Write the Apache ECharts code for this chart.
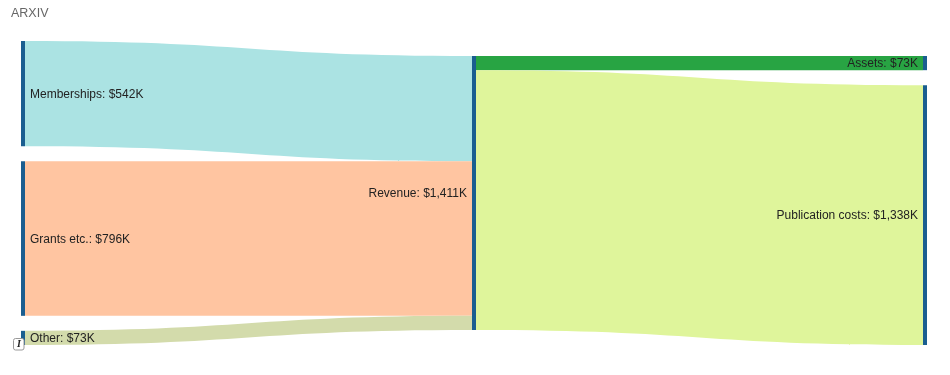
<!DOCTYPE html>
<html><head><meta charset="utf-8">
<style>html,body{margin:0;padding:0;background:#fff}#c{width:950px;height:375px}</style>
<script src="https://cdn.jsdelivr.net/npm/echarts@6/dist/echarts.min.js"></script>
</head><body><div id="c"></div>
<script>
const chartTitle = 'ARXIV';
const nodeNames = ['Memberships', 'Grants etc.', 'Other', 'Revenue', 'Assets', 'Publication costs'];
const nodeValues = [542, 796, 73, 1411, 73, 1338];
const linkSources = ['Memberships', 'Grants etc.', 'Other', 'Revenue', 'Revenue'];
const linkTargets = ['Revenue', 'Revenue', 'Revenue', 'Assets', 'Publication costs'];
const linkValues = [542, 796, 73, 73, 1338];
const linkColors = ['#abe3e3', '#ffc5a1', '#d3dbab', '#28a443', '#dff59b'];
const labelSides = ['right', 'right', 'right', 'left', 'left', 'left'];

const chartHeight = 375, gridTop = 41, gridBottom = 30, gap = 15;
const layoutHeight = chartHeight - gridTop - gridBottom;
// The reference pushes the shorter columns down by one gap. The value scale is the one
// ECharts itself derives from its tallest column, so node offsets follow from the data.
const scale = (layoutHeight - 2 * gap) / nodeValues[3];
const nodeShift = {
  Revenue: gap,
  Assets: gap,
  'Publication costs': gap + nodeValues[4] * scale + gap
};

const money = v => '$' + v.toLocaleString('en-US') + 'K';
const chart = echarts.init(document.getElementById('c'), null, {renderer: 'canvas'});
chart.setOption({
  animation: false,
  title: {text: chartTitle, left: 6, top: 2, textStyle: {fontFamily: 'Liberation Sans', fontSize: 12.5, fontWeight: 'normal', color: '#666'}},
  series: [{
    type: 'sankey',
    left: 21, right: 23, top: gridTop, bottom: gridBottom,
    nodeWidth: 4, nodeGap: gap,
    layoutIterations: 0,
    draggable: false,
    emphasis: {disabled: true},
    itemStyle: {color: '#1a5e90', borderWidth: 0},
    lineStyle: {opacity: 1, curveness: 0.5},
    label: {fontFamily: 'Liberation Sans', fontSize: 12, color: '#222', distance: 5, offset: [0, 1]},
    data: nodeNames.map((name, i) => {
      const item = {
        name,
        label: {position: labelSides[i], formatter: name + ': ' + money(nodeValues[i])}
      };
      if (name in nodeShift) item.localY = nodeShift[name] / layoutHeight;
      return item;
    }),
    links: linkValues.map((value, i) => ({
      source: linkSources[i], target: linkTargets[i], value,
      lineStyle: {color: linkColors[i]}
    }))
  }],
  graphic: [
    {type: 'rect', left: 13, top: 338, shape: {width: 10.5, height: 11.5, r: 2}, style: {fill: '#fff', stroke: '#999', lineWidth: 1}, z: 100},
    {type: 'text', left: 17, top: 339, style: {text: 'I', fontFamily: 'Liberation Serif', fontStyle: 'italic', fontWeight: 'bold', fontSize: 10, fill: '#222'}, z: 101}
  ]
});
</script></body></html>
